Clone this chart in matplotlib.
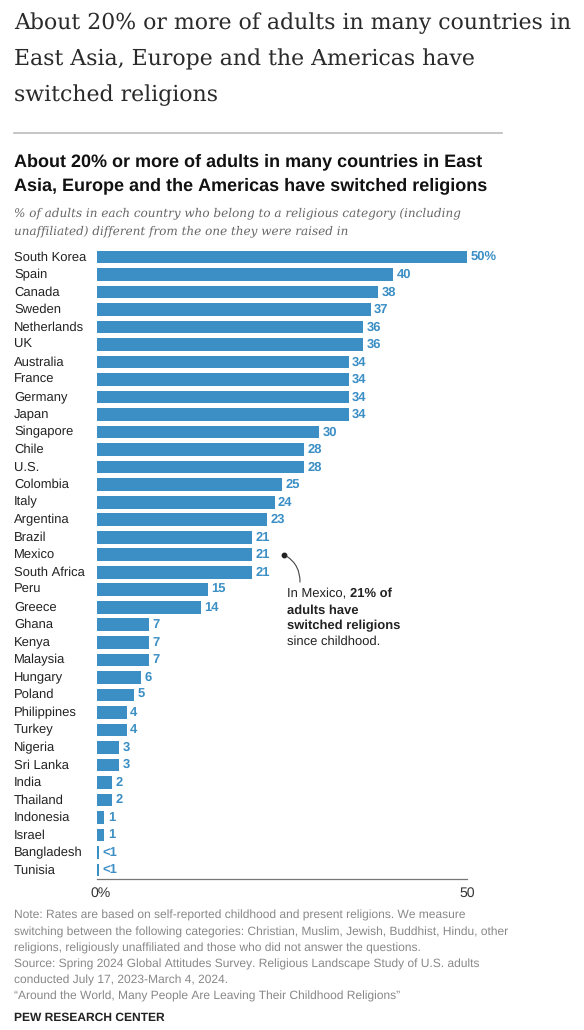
import matplotlib
matplotlib.use("Agg")
import matplotlib.pyplot as plt
import matplotlib.transforms as mtransforms

plt.rcParams["text.hinting"] = "no_hinting"
plt.rcParams["text.hinting_factor"] = 1

countries = ["South Korea", "Spain", "Canada", "Sweden", "Netherlands", "UK", "Australia",
             "France", "Germany", "Japan", "Singapore", "Chile", "U.S.", "Colombia", "Italy",
             "Argentina", "Brazil", "Mexico", "South Africa", "Peru", "Greece", "Ghana", "Kenya",
             "Malaysia", "Hungary", "Poland", "Philippines", "Turkey", "Nigeria", "Sri Lanka",
             "India", "Thailand", "Indonesia", "Israel", "Bangladesh", "Tunisia"]
values = [50, 40, 38, 37, 36, 36, 34, 34, 34, 34, 30, 28, 28, 25, 24, 23, 21, 21, 21, 15, 14,
          7, 7, 7, 6, 5, 4, 4, 3, 3, 2, 2, 1, 1, 0.25, 0.25]
value_labels = ["50%", "40", "38", "37", "36", "36", "34", "34", "34", "34", "30", "28", "28",
                "25", "24", "23", "21", "21", "21", "15", "14", "7", "7", "7", "6", "5", "4",
                "4", "3", "3", "2", "2", "1", "1", "<1", "<1"]
xticks = [0, 50]
xtick_labels = ["0%", "50"]

W, H = 584, 1030
BLUE = "#3b8fc5"
fig = plt.figure(figsize=(W / 100, H / 100), dpi=100)

def fx(x):
    return x / W

def fy(y):
    return 1 - y / H

n = len(countries)
top_c, bot_c = 257, 870
step = (bot_c - top_c) / (n - 1)
ax_top = top_c - step / 2
ax_bot = bot_c + step / 2
ax = fig.add_axes([fx(97), fy(ax_bot), fx(467) - fx(97), (ax_bot - ax_top) / H])

ypos = list(range(n))
ax.barh(ypos, values, height=0.72, color=BLUE, edgecolor="none")
ax.set_xlim(0, 50)
ax.set_ylim(n - 0.5, -0.5)
for spine in ["top", "right", "left"]:
    ax.spines[spine].set_visible(False)
ax.spines["bottom"].set_color("#777777")
ax.spines["bottom"].set_linewidth(0.9)
ax.set_yticks([])
ax.set_xticks(xticks)
ax.set_xticklabels(xtick_labels, fontsize=9.8, color="#333333", family="Liberation Sans")
ax.tick_params(axis="x", length=0, pad=6)
for lbl in ax.get_xticklabels():
    if lbl.get_text() == "0%":
        lbl.set_transform(lbl.get_transform() +
                          mtransforms.ScaledTranslation(4 / 100, 0, fig.dpi_scale_trans))

for i, (c, v, t) in enumerate(zip(countries, values, value_labels)):
    ax.text(v + 0.45, i, t, va="center", ha="left", fontsize=9.4, fontweight="bold",
            color=BLUE, family="Liberation Sans")
    fig.text(fx(14), fy(top_c + i * step + 3.5), c, va="baseline", ha="left", fontsize=9.3,
             color="#222222", family="Liberation Sans")

# annotation
mi = countries.index("Mexico")
ax.plot([25.3], [mi], marker="o", markersize=3.2, color="#222222")
ax.annotate("", xy=(25.3, mi), xytext=(fx(300), fy(582)), textcoords="figure fraction",
            arrowprops=dict(arrowstyle="-", color="#444444", lw=0.8,
                            connectionstyle="arc3,rad=0.3", shrinkA=0, shrinkB=2))
fs_a = 9.6
t1 = fig.text(fx(287), fy(597), "In Mexico, ", fontsize=fs_a, va="baseline", ha="left",
              family="Liberation Sans", color="#222222")
ax.annotate("21% of", xy=(1, 0), xycoords=t1, va="bottom", ha="left", fontsize=fs_a,
            fontweight="bold", family="Liberation Sans", color="#222222")
fig.text(fx(287), fy(613.5), "adults have", fontsize=fs_a, va="baseline", ha="left",
         fontweight="bold", family="Liberation Sans", color="#222222")
fig.text(fx(287), fy(629.5), "switched religions", fontsize=fs_a, va="baseline", ha="left",
         fontweight="bold", family="Liberation Sans", color="#222222")
fig.text(fx(287), fy(645), "since childhood.", fontsize=fs_a, va="baseline", ha="left",
         family="Liberation Sans", color="#222222")

# header
for k, line in enumerate(["About 20% or more of adults in many countries in",
                          "East Asia, Europe and the Americas have",
                          "switched religions"]):
    fig.text(fx(14), fy(23 + k * 36), line, fontsize=16.2, va="center", ha="left",
             family="DejaVu Serif", color="#2a2a2a")
fig.add_artist(plt.Line2D([fx(14), fx(502)], [fy(133), fy(133)], color="#bbbbbb", lw=1.2))

for k, line in enumerate(["About 20% or more of adults in many countries in East",
                          "Asia, Europe and the Americas have switched religions"]):
    fig.text(fx(14), fy(166 + k * 24), line, fontsize=13.1, fontweight="bold", va="baseline",
             ha="left", family="Liberation Sans", color="#111111")
for k, line in enumerate(["% of adults in each country who belong to a religious category (including",
                          "unaffiliated) different from the one they were raised in"]):
    fig.text(fx(14), fy(216 + k * 18), line, fontsize=8.65, style="italic", va="baseline",
             ha="left", family="DejaVu Serif", color="#666666")

notes = ["Note: Rates are based on self-reported childhood and present religions. We measure",
         "switching between the following categories: Christian, Muslim, Jewish, Buddhist, Hindu, other",
         "religions, religiously unaffiliated and those who did not answer the questions.",
         "Source: Spring 2024 Global Attitudes Survey. Religious Landscape Study of U.S. adults",
         "conducted July 17, 2023-March 4, 2024.",
         "\u201cAround the World, Many People Are Leaving Their Childhood Religions\u201d"]
for k, line in enumerate(notes):
    fig.text(fx(14), fy(919 + k * 16.2), line, fontsize=8.4, va="baseline", ha="left",
             family="Liberation Sans", color="#888888")
fig.text(fx(14), fy(1020.5), "PEW RESEARCH CENTER", fontsize=8.4, fontweight="bold",
         va="baseline", ha="left", family="Liberation Sans", color="#222222")

fig.savefig("out.png", dpi=100, facecolor="white")
